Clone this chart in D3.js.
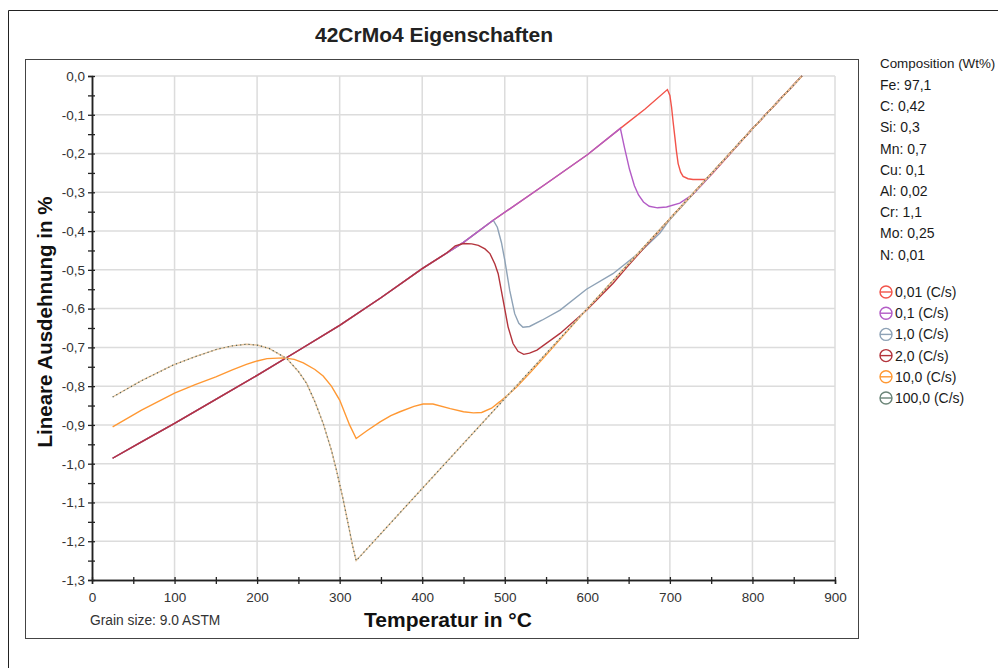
<!DOCTYPE html>
<html>
<head>
<meta charset="utf-8">
<script src="https://cdn.jsdelivr.net/npm/d3@7"></script>
<style>
  body { margin: 0; background: #fff; }
  svg { font-family: "Liberation Sans", Arial, sans-serif; }
</style>
</head>
<body>
<svg id="chart" width="998" height="668"></svg>
<script>
// ---- data ----
const chartTitle = "42CrMo4 Eigenschaften";
const xTicks = [0, 100, 200, 300, 400, 500, 600, 700, 800, 900];
const yTicks = [0, -0.1, -0.2, -0.3, -0.4, -0.5, -0.6, -0.7, -0.8, -0.9, -1.0, -1.1, -1.2, -1.3];
const composition = ["Fe: 97,1", "C: 0,42", "Si: 0,3", "Mn: 0,7", "Cu: 0,1", "Al: 0,02", "Cr: 1,1", "Mo: 0,25", "N: 0,01"];
const rateLabels = ["0,01 (C/s)", "0,1 (C/s)", "1,0 (C/s)", "2,0 (C/s)", "10,0 (C/s)", "100,0 (C/s)"];

// [temperature °C, linear expansion %]
const rate001 = [[25, -0.986], [60, -0.944], [100, -0.896], [150, -0.834], [200, -0.772], [250, -0.708], [300, -0.643],
  [350, -0.572], [400, -0.497], [450, -0.429], [486, -0.372], [550, -0.278], [600, -0.203], [640, -0.135], [670, -0.085],
  [697, -0.035], [700, -0.05], [702, -0.08], [704, -0.12], [706, -0.157], [708, -0.195], [710, -0.226], [713, -0.248],
  [716, -0.259], [722, -0.265], [728, -0.267], [744, -0.267], [752, -0.25], [800, -0.136], [860, 0.0]];
const rate01 = [[25, -0.986], [60, -0.944], [100, -0.896], [150, -0.834], [200, -0.772], [250, -0.708], [300, -0.643],
  [350, -0.572], [400, -0.497], [450, -0.429], [486, -0.372], [550, -0.278], [600, -0.203], [640, -0.135], [645, -0.185],
  [651, -0.24], [657, -0.283], [662, -0.307], [668, -0.325], [675, -0.336], [685, -0.34], [696, -0.338], [712, -0.328],
  [728, -0.305], [740, -0.278], [800, -0.136], [860, 0.0]];
const rate1 = [[25, -0.986], [60, -0.944], [100, -0.896], [150, -0.834], [200, -0.772], [250, -0.708], [300, -0.643],
  [350, -0.572], [400, -0.497], [450, -0.429], [486, -0.372], [491, -0.39], [496, -0.43], [500, -0.475], [506, -0.553],
  [512, -0.613], [517, -0.638], [522, -0.648], [530, -0.646], [545, -0.63], [567, -0.604], [599, -0.55], [631, -0.51],
  [664, -0.454], [688, -0.405], [700, -0.37], [800, -0.136], [860, 0.0]];
const rate2 = [[25, -0.986], [60, -0.944], [100, -0.896], [150, -0.834], [200, -0.772], [250, -0.708], [300, -0.643],
  [350, -0.572], [400, -0.497], [430, -0.456], [440, -0.438], [450, -0.432], [460, -0.433], [468, -0.437], [476, -0.446],
  [482, -0.458], [488, -0.485], [492, -0.51], [498, -0.578], [504, -0.647], [510, -0.69], [516, -0.71], [523, -0.718],
  [530, -0.715], [539, -0.707], [567, -0.664], [599, -0.604], [631, -0.535], [648, -0.493], [700, -0.368],
  [800, -0.136], [860, 0.0]];
const rate10 = [[25, -0.905], [60, -0.862], [100, -0.818], [125, -0.796], [150, -0.776], [170, -0.758], [187, -0.744],
  [200, -0.735], [212, -0.729], [232, -0.727], [245, -0.731], [256, -0.74], [270, -0.757], [280, -0.774], [290, -0.8],
  [300, -0.836], [312, -0.9], [320, -0.935], [333, -0.915], [349, -0.892], [362, -0.876], [373, -0.866], [390, -0.852],
  [401, -0.846], [413, -0.846], [434, -0.858], [450, -0.866], [462, -0.869], [472, -0.868], [484, -0.857], [494, -0.84],
  [505, -0.82], [514, -0.803], [530, -0.767], [547, -0.727], [600, -0.6], [700, -0.368], [800, -0.136], [860, 0.0]];
const rate100 = [[25, -0.828], [60, -0.786], [98, -0.746], [125, -0.724], [151, -0.705], [170, -0.696], [187, -0.692],
  [200, -0.694], [215, -0.703], [236, -0.729], [250, -0.762], [260, -0.793], [270, -0.84], [280, -0.896], [290, -0.965],
  [296, -1.016], [304, -1.09], [311, -1.163], [316, -1.215], [320, -1.25], [400, -1.064], [500, -0.832], [600, -0.6],
  [700, -0.368], [800, -0.136], [860, 0.0]];

const seriesList = [rate001, rate1, rate01, rate2, rate10, rate100];
const seriesColors = ["#f2534a", "#8ea2b6", "#b35cc6", "#b3343c", "#ff9833", "#e6c49c"];
const legendColors = ["#f2534a", "#b35cc6", "#8ea2b6", "#b3343c", "#ff9833", "#6b8578"];

// ---- layout ----
const svg = d3.select("#chart");
const plot = { left: 92, top: 76, right: 835, bottom: 580 };

const x = d3.scaleLinear().domain([0, 900]).range([plot.left, plot.right]);
const y = d3.scaleLinear().domain([-1.3, 0]).range([plot.bottom, plot.top]);

// frames
svg.append("path").attr("d", "M8.5,668 V10.5 H998").attr("fill", "none").attr("stroke", "#222");
svg.append("rect").attr("x", 25.5).attr("y", 59.5).attr("width", 833).attr("height", 579)
  .attr("fill", "none").attr("stroke", "#444");

svg.append("text").attr("x", 434).attr("y", 42).attr("text-anchor", "middle")
  .attr("font-size", 21).attr("font-weight", "bold").attr("fill", "#222").text(chartTitle);

// grid
svg.append("g").selectAll("line").data(xTicks.slice(1)).join("line")
  .attr("x1", d => x(d)).attr("x2", d => x(d)).attr("y1", plot.top).attr("y2", plot.bottom)
  .attr("stroke", "#dcdcdc").attr("stroke-width", 1.5);
svg.append("g").selectAll("line").data(yTicks.slice(0, -1)).join("line")
  .attr("x1", plot.left).attr("x2", plot.right).attr("y1", d => y(d)).attr("y2", d => y(d))
  .attr("stroke", "#dcdcdc").attr("stroke-width", 1.5);

// axes
const fmt = d3.format(".1f");
const xAxis = svg.append("g").attr("transform", `translate(0,${plot.bottom})`)
  .call(d3.axisBottom(x).tickValues(xTicks).tickSize(0).tickPadding(12).tickFormat(d => d));
const xMinor = svg.append("g").attr("transform", `translate(0,${plot.bottom})`)
  .call(d3.axisBottom(x).ticks(18).tickSize(4).tickFormat(""));
xMinor.selectAll(".tick line").attr("y1", -3);

const yAxis = svg.append("g").attr("transform", `translate(${plot.left},0)`)
  .call(d3.axisLeft(y).tickValues(yTicks).tickSize(0).tickPadding(7)
    .tickFormat(d => fmt(d).replace("−", "-").replace(".", ",").replace("-0,0", "0,0")));
const yMinor = svg.append("g").attr("transform", `translate(${plot.left},0)`)
  .call(d3.axisLeft(y).ticks(26).tickSize(4).tickFormat(""));
yMinor.selectAll(".tick line").attr("x1", 3);

[xAxis, xMinor, yAxis, yMinor].forEach(g => {
  g.select(".domain").attr("stroke", "#222").attr("stroke-width", 1.5);
  g.selectAll(".tick line").attr("stroke", "#222").attr("stroke-width", 1.3);
  g.selectAll("text").attr("font-size", 13.5).attr("fill", "#333")
    .attr("font-family", "'Liberation Sans', Arial, sans-serif");
});

svg.append("text").attr("x", 448).attr("y", 627).attr("text-anchor", "middle")
  .attr("font-size", 21).attr("font-weight", "bold").attr("fill", "#111").text("Temperatur in °C");
svg.append("text").attr("transform", "translate(52,322) rotate(-90)").attr("text-anchor", "middle")
  .attr("font-size", 20.5).attr("font-weight", "bold").attr("fill", "#111").text("Lineare Ausdehnung in %");
svg.append("text").attr("x", 90).attr("y", 625).attr("font-size", 13.8).attr("fill", "#333")
  .text("Grain size: 9.0 ASTM");

// curves
const line = d3.line().x(d => x(d[0])).y(d => y(d[1]));
svg.append("g").selectAll("path").data(seriesList).join("path")
  .attr("d", line).attr("fill", "none")
  .attr("stroke", (d, i) => seriesColors[i]).attr("stroke-width", 1.4);
// dark dotted overlay of the 100 C/s curve
svg.append("path").datum(rate100).attr("d", line).attr("fill", "none")
  .attr("stroke", "#4c6560").attr("stroke-width", 1.2).attr("stroke-dasharray", "1.2,3");

// composition + legend
const side = svg.append("g").attr("font-size", 14).attr("fill", "#1a1a1a");
side.append("text").attr("x", 880).attr("y", 68).attr("font-size", 13.4).text("Composition (Wt%)");
side.selectAll(".comp").data(composition).join("text").attr("class", "comp")
  .attr("x", 880).attr("y", (d, i) => 90 + i * 21.2).text(d => d);

const leg = svg.append("g").selectAll("g").data(rateLabels).join("g")
  .attr("transform", (d, i) => `translate(886,${292 + i * 21.2})`);
leg.append("circle").attr("r", 6).attr("fill", "none")
  .attr("stroke", (d, i) => legendColors[i]).attr("stroke-width", 1.4);
leg.append("line").attr("x1", -6).attr("x2", 6)
  .attr("stroke", (d, i) => legendColors[i]).attr("stroke-width", 1.4);
leg.append("text").attr("x", 9).attr("y", 5).attr("font-size", 14).attr("fill", "#1a1a1a").text(d => d);
</script>
</body>
</html>
